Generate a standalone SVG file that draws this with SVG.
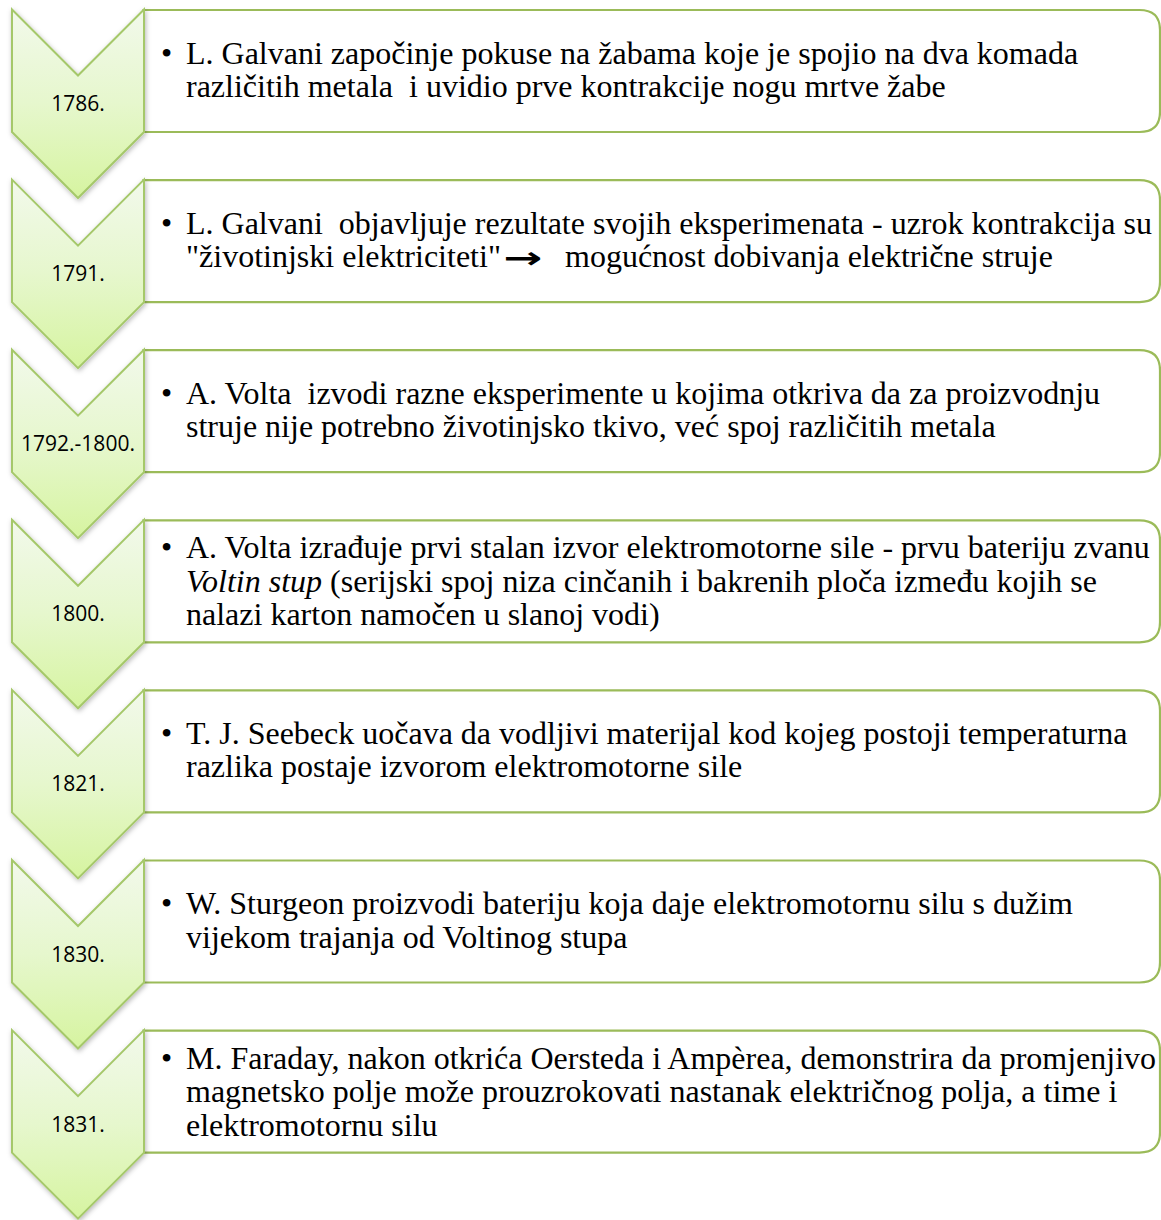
<svg xmlns="http://www.w3.org/2000/svg" width="1161" height="1220" viewBox="0 0 1161 1220">
<defs>
<linearGradient id="chevFill" x1="0" y1="0" x2="0" y2="1">
<stop offset="0" stop-color="#F2F9EB"/>
<stop offset="0.5" stop-color="#E6F7CD"/>
<stop offset="1" stop-color="#D6F4A0"/>
</linearGradient>
<filter id="shadow" x="-20%" y="-20%" width="140%" height="140%">
<feDropShadow dx="1" dy="2" stdDeviation="2.5" flood-color="#000" flood-opacity="0.28"/>
</filter>
<path id="chev" d="M0,0 L66,66 L132,0 L132,122.5 L66,188.5 L0,122.5 Z"/>
<path id="box" d="M0,0 L996,0 Q1016.5,0 1016.5,20 L1016.5,102 Q1016.5,122 996,122 L0,122 Z"/>
</defs>
<style>
.chev{fill:url(#chevFill);stroke:#A5C86A;stroke-width:2;filter:url(#shadow)}
.box{fill:#FFFFFF;stroke:#9BBB59;stroke-width:2.2}
.yr{font-family:"Open Sans","Noto Sans",sans-serif;font-size:21px;fill:#000;text-anchor:middle}
.tx{font-family:"Liberation Serif","Times New Roman",serif;font-size:32px;fill:#000;white-space:pre}
.it{font-style:italic}
.ar{font-family:"DejaVu Sans",sans-serif;font-weight:bold;font-size:30px;fill:#000}
</style>
<rect width="1161" height="1220" fill="#FFFFFF"/>
<g id="connectors"></g>

<g id="node1">
<use href="#box" class="box" x="143.5" y="10"/>
<use href="#chev" class="chev" x="12" y="9.5"/>
<text class="yr" x="78" y="111">1786.</text>
<text class="tx" x="161" y="63.5">•</text>
<text class="tx" x="186" y="63.5">L. Galvani započinje pokuse na žabama koje je spojio na dva komada</text>
<text class="tx" x="186" y="96.8">različitih metala  i uvidio prve kontrakcije nogu mrtve žabe</text>
</g>

<g id="node2">
<use href="#box" class="box" x="143.5" y="180.1"/>
<use href="#chev" class="chev" x="12" y="179.6"/>
<text class="yr" x="78" y="281.1">1791.</text>
<text class="tx" x="161" y="233.7">•</text>
<text class="tx" x="186" y="233.7">L. Galvani  objavljuje rezultate svojih eksperimenata - uzrok kontrakcija su</text>
<text class="tx" x="186" y="267">"životinjski elektriciteti"</text>
<text class="ar" x="503" y="267.5" textLength="39" lengthAdjust="spacingAndGlyphs">→</text>
<text class="tx" x="565" y="267">mogućnost dobivanja električne struje</text>
</g>

<g id="node3">
<use href="#box" class="box" x="143.5" y="350.2"/>
<use href="#chev" class="chev" x="12" y="349.7"/>
<text class="yr" x="78" y="451.2">1792.-1800.</text>
<text class="tx" x="161" y="403.9">•</text>
<text class="tx" x="186" y="403.9">A. Volta  izvodi razne eksperimente u kojima otkriva da za proizvodnju</text>
<text class="tx" x="186" y="437.2">struje nije potrebno životinjsko tkivo, već spoj različitih metala</text>
</g>

<g id="node4">
<use href="#box" class="box" x="143.5" y="520.3"/>
<use href="#chev" class="chev" x="12" y="519.8"/>
<text class="yr" x="78" y="621.3">1800.</text>
<text class="tx" x="161" y="558.3">•</text>
<text class="tx" x="186" y="558.3">A. Volta izrađuje prvi stalan izvor elektromotorne sile - prvu bateriju zvanu</text>
<text class="tx" x="186" y="591.6"><tspan class="it">Voltin stup</tspan> (serijski spoj niza cinčanih i bakrenih ploča između kojih se</text>
<text class="tx" x="186" y="624.9">nalazi karton namočen u slanoj vodi)</text>
</g>

<g id="node5">
<use href="#box" class="box" x="143.5" y="690.4"/>
<use href="#chev" class="chev" x="12" y="689.9"/>
<text class="yr" x="78" y="791.4">1821.</text>
<text class="tx" x="161" y="744.1">•</text>
<text class="tx" x="186" y="744.1">T. J. Seebeck uočava da vodljivi materijal kod kojeg postoji temperaturna</text>
<text class="tx" x="186" y="777.4">razlika postaje izvorom elektromotorne sile</text>
</g>

<g id="node6">
<use href="#box" class="box" x="143.5" y="860.5"/>
<use href="#chev" class="chev" x="12" y="860"/>
<text class="yr" x="78" y="961.5">1830.</text>
<text class="tx" x="161" y="914.2">•</text>
<text class="tx" x="186" y="914.2">W. Sturgeon proizvodi bateriju koja daje elektromotornu silu s dužim</text>
<text class="tx" x="186" y="947.5">vijekom trajanja od Voltinog stupa</text>
</g>

<g id="node7">
<use href="#box" class="box" x="143.5" y="1030.6"/>
<use href="#chev" class="chev" x="12" y="1030.1"/>
<text class="yr" x="78" y="1131.6">1831.</text>
<text class="tx" x="161" y="1068.9">•</text>
<text class="tx" x="186" y="1068.9">M. Faraday, nakon otkrića Oersteda i Ampèrea, demonstrira da promjenjivo</text>
<text class="tx" x="186" y="1102.2">magnetsko polje može prouzrokovati nastanak električnog polja, a time i</text>
<text class="tx" x="186" y="1135.5">elektromotornu silu</text>
</g>
</svg>
